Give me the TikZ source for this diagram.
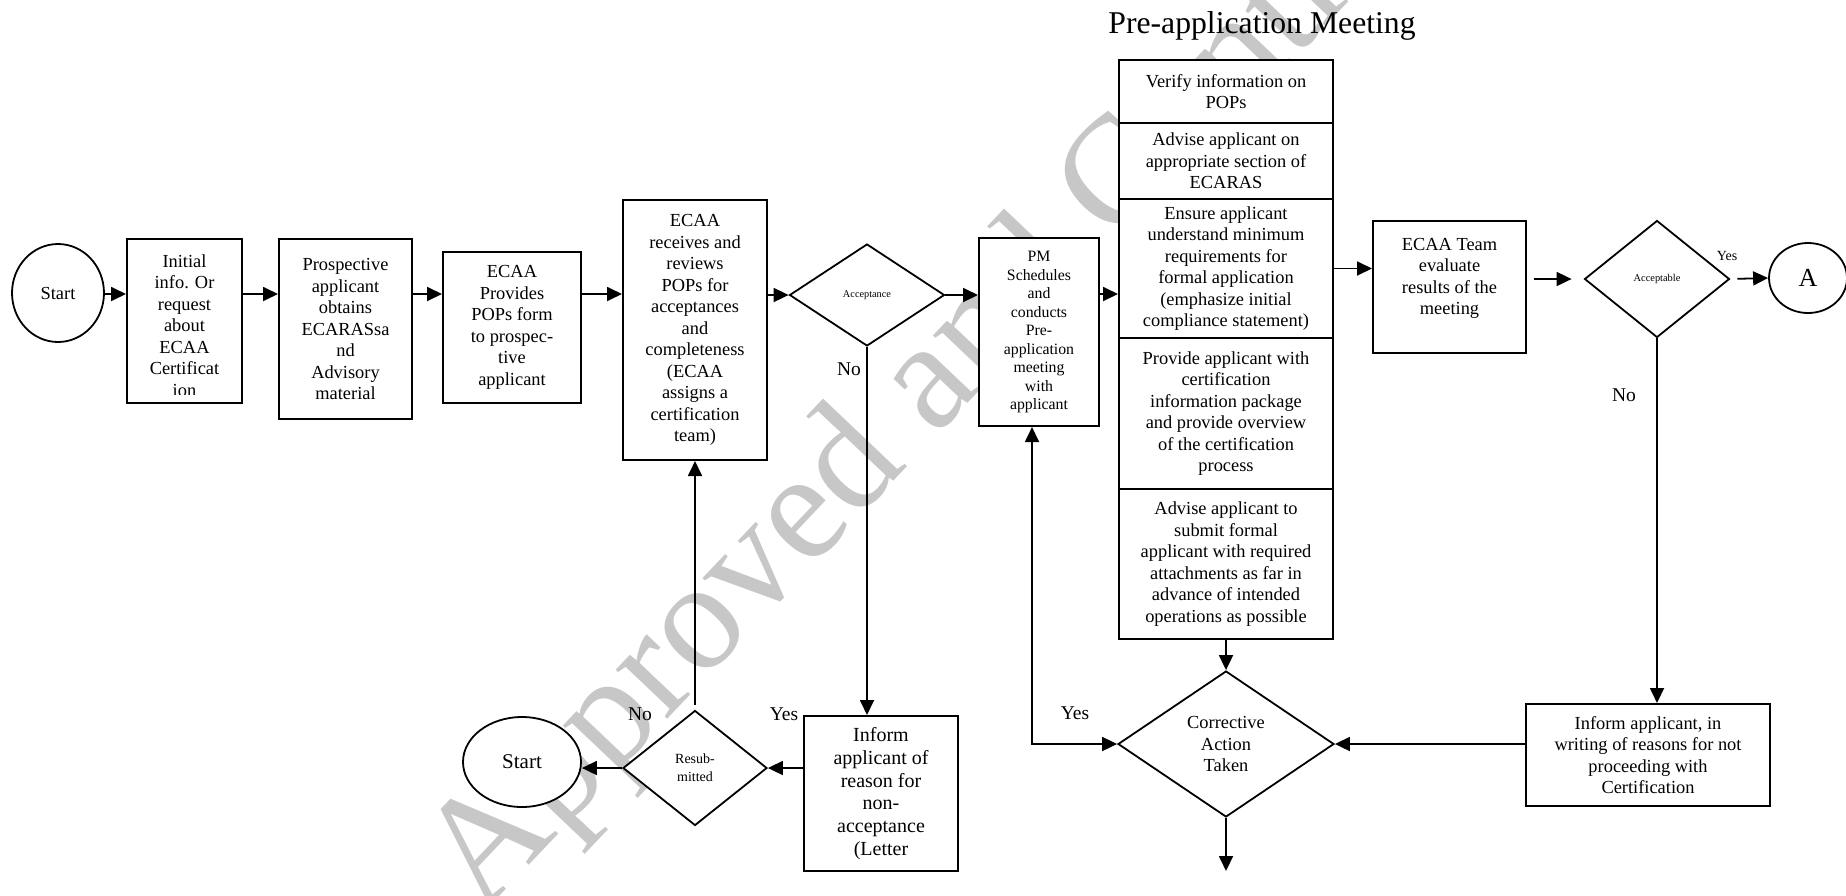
\documentclass[tikz,border=0pt]{standalone}
\usepackage{fontspec}
\setmainfont{Liberation Serif}
\usetikzlibrary{shapes.geometric, arrows.meta, calc}
\newcommand{\boxfont}{\fontsize{18.4}{21.5}\selectfont}
\tikzset{
    procbox/.style={
        draw,
        line width=2pt,
        fill=white,
        inner sep=0pt,
        align=center,
        font=\boxfont
    },
    decision/.style={
        diamond,
        draw,
        line width=1.8pt,
        fill=white,
        inner sep=0pt,
        align=center
    },
    terminal/.style={
        ellipse,
        draw,
        line width=1.8pt,
        fill=white,
        inner sep=0pt,
        font=\boxfont
    },
    flow/.style={
        line width=1.8pt,
        -{Triangle[length=15pt,width=14pt]}
    },
    flowboth/.style={
        line width=1.8pt,
        {Triangle[length=15pt,width=14pt]}-{Triangle[length=15pt,width=14pt]}
    },
    answer/.style={font=\fontsize{19.5}{22}\selectfont}
}

\begin{document}
\begin{tikzpicture}[x=1pt, y=-1pt]
                \useasboundingbox (0,0) rectangle (1846,895);
                % 0. Watermark behind everything
                \node[rotate=46.5, anchor=base west, inner sep=0pt, text=black!22, font=\fontsize{155}{155}\selectfont] (stamp) at (482,915) {Approved and Controlled};
                \node[anchor=base, font=\fontsize{31.7}{36}\selectfont] (title) at (1262,33) {Pre-application Meeting};

                % 1. Main row
                \coordinate (mainline) at (0,294);
                \node[terminal, minimum width=92pt, minimum height=98pt] (start) at (58,293) {Start};
                \node[procbox, minimum width=115pt, minimum height=164pt] (info) at (184.5,321) {};
                \begin{scope}
                    \clip (info.north west) rectangle ([yshift=10pt]info.south east);
                    \node[font=\boxfont, align=center, inner sep=0pt] (infotxt) at ([yshift=-4.5pt]info.center) {Initial\\info. Or\\request\\about\\ECAA\\Certificat\\ion};
                \end{scope}
                \node[procbox, minimum width=133pt, minimum height=180pt] (obtain) at (345.5,329) {Prospective\\applicant\\obtains\\ECARASsa\\nd\\Advisory\\material};
                \node[procbox, minimum width=138pt, minimum height=151pt] (provides) at (512,327.5) {ECAA\\Provides\\POPs form\\to prospec-\\tive\\applicant};
                \node[procbox, minimum width=144pt, minimum height=260pt] (review) at (695,330) {ECAA\\receives and\\reviews\\POPs for\\acceptances\\and\\completeness\\(ECAA\\assigns a\\certification\\team)};
                \node[decision, minimum width=155pt, minimum height=102pt, font=\fontsize{10.3}{12}\selectfont] (accept) at (867,295) {Acceptance};
                \node[procbox, minimum width=120pt, minimum height=188pt, font=\fontsize{15.8}{18.5}\selectfont] (pm) at (1039,332) {PM\\Schedules\\and\\conducts\\Pre-\\application\\meeting\\with\\applicant};

                % 2. Pre-application meeting column
                \node[procbox, minimum width=214pt, minimum height=63pt] (verify) at (1226,91.5) {Verify information on\\POPs};
                \node[procbox, minimum width=214pt, minimum height=76pt] (advise) at (1226,161) {Advise applicant on\\appropriate section of\\ECARAS};
                \node[procbox, minimum width=214pt, minimum height=139pt] (ensure) at (1226,268.5) {Ensure applicant\\understand minimum\\requirements for\\formal application\\(emphasize initial\\compliance statement)};
                \node[procbox, minimum width=214pt, minimum height=151pt] (package) at (1226,413.5) {Provide applicant with\\certification\\information package\\and provide overview\\of the certification\\process};
                \node[procbox, minimum width=214pt, minimum height=150pt] (submit) at (1226,564) {Advise applicant to\\submit formal\\applicant with required\\attachments as far in\\advance of intended\\operations as possible};

                % 3. Evaluation
                \node[procbox, minimum width=153pt, minimum height=132pt] (team) at (1449.5,287) {ECAA Team\\evaluate\\results of the\\meeting\\\mbox{}};
                \node[decision, minimum width=145pt, minimum height=117pt, font=\fontsize{10.4}{12}\selectfont] (evalok) at (1657,279) {Acceptable};
                \node[terminal, minimum width=78pt, minimum height=70pt, font=\fontsize{26}{30}\selectfont] (aEnd) at (1808,278) {A};
                \node[procbox, minimum width=244pt, minimum height=102pt] (informR) at (1648,755) {Inform applicant, in\\writing of reasons for not\\proceeding with\\Certification};
                \node[decision, minimum width=216pt, minimum height=146pt, font=\boxfont] (corrective) at (1226,744) {Corrective\\Action\\Taken};
                \coordinate (onward) at (1226,871);

                % 4. Non-acceptance branch
                \node[procbox, minimum width=154pt, minimum height=155pt, font=\fontsize{20}{22.8}\selectfont] (informL) at (881,793.5) {Inform\\applicant of\\reason for\\non-\\acceptance\\(Letter};
                \node[decision, minimum width=144pt, minimum height=115pt, font=\fontsize{14}{17.7}\selectfont] (resub) at (695,768) {Resub-\\mitted};
                \node[terminal, minimum width=118pt, minimum height=90pt, font=\fontsize{21}{24}\selectfont] (restart) at (522,762) {Start};

                % 5. Connectors
                \draw[flow] (start.east |- mainline) -- (info.west |- mainline);
                \draw[flow] (info.east |- mainline) -- (obtain.west |- mainline);
                \draw[flow] (obtain.east |- mainline) -- (provides.west |- mainline);
                \draw[flow] (provides.east |- mainline) -- (review.west |- mainline);
                \draw[flow] (review.east |- accept) -- (accept.west);
                \draw[flow] (accept.east) -- (accept.east -| pm.west);
                \draw[flow] (pm.east |- mainline) -- (ensure.west |- mainline);
                \draw[flow] (ensure.east) -- (ensure.east -| team.west);
                \draw[flow, shorten <=7pt, shorten >=12pt] (team.east |- evalok) -- (evalok.west);
                \draw[flow, shorten <=7pt] (evalok.east) -- (aEnd.west);
                \draw[flow] (evalok.south) -- (evalok.south |- informR.north);
                \draw[flow] (informR.west |- corrective) -- (corrective.east);
                \draw[flow] (submit.south) -- (corrective.north);
                \draw[flow] (corrective.south) -- (onward);
                \draw[flowboth] ([xshift=-7pt]pm.south) |- (corrective.west);
                \draw[flow] (accept.south) -- (accept.south |- informL.north);
                \draw[flow] (informL.west |- resub) -- (resub.east);
                \draw[flow] (resub.west) -- (resub.west -| restart.east);
                \draw[flow, shorten <=5pt] (resub.north) -- (review.south);

                % 6. Answers
                \node[answer] (noAccept) at (849,369) {No};
                \node[answer] (noEval) at (1624,395) {No};
                \node[answer] (noResub) at (640,714) {No};
                \node[answer] (yesResub) at (784,714) {Yes};
                \node[answer] (yesCorr) at (1075,713) {Yes};
                \node[font=\fontsize{14}{16}\selectfont] (yesEval) at (1727,256) {Yes};
            \end{tikzpicture}
\end{document}
